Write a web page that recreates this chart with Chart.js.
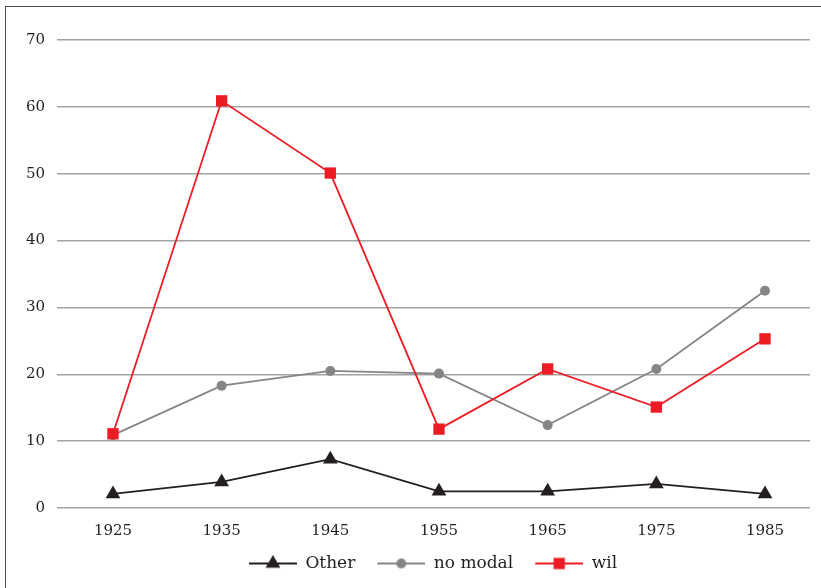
<!DOCTYPE html>
<html>
<head>
<meta charset="utf-8">
<script src="https://cdn.jsdelivr.net/npm/chart.js"></script>
<style>
  body { margin: 0; background: #fff; overflow: hidden; }
  #frame { position: absolute; left: 5px; top: 6px; width: 830px; height: 600px; border-left: 1.5px solid #4d4d4d; border-top: 1.5px solid #4d4d4d; }
  #chart { position: absolute; left: 0; top: 0; }
</style>
</head>
<body>
<div id="frame"></div>
<canvas id="chart" width="821" height="588"></canvas>
<script>
const years = [1925, 1935, 1945, 1955, 1965, 1975, 1985];
const otherValues = [2.1, 3.9, 7.3, 2.5, 2.5, 3.6, 2.1];
const noModalValues = [10.9, 18.3, 20.5, 20.1, 12.4, 20.8, 32.5];
const wilValues = [11.1, 60.9, 50.1, 11.8, 20.8, 15.1, 25.3];
const yTicks = [0, 10, 20, 30, 40, 50, 60, 70];

const textColor = "#231f20";
const serif = "'DejaVu Serif', serif";

function toPoints(vals) {
  return vals.map((v, i) => ({ x: years[i], y: v }));
}

// line+marker swatch for the legend (10px blank on the left to widen the gaps)
function swatch(color, style, r) {
  const c = document.createElement("canvas");
  c.width = 58;
  c.height = 18;
  const g = c.getContext("2d");
  const cx = 34, cy = 9;
  g.strokeStyle = color;
  g.lineWidth = 2;
  g.beginPath();
  g.moveTo(10, cy);
  g.lineTo(58, cy);
  g.stroke();
  g.fillStyle = color;
  g.beginPath();
  if (style === "triangle") {
    g.moveTo(cx, cy - r);
    g.lineTo(cx + r * 0.866, cy + r * 0.5);
    g.lineTo(cx - r * 0.866, cy + r * 0.5);
    g.closePath();
  } else if (style === "rect") {
    const s = r * Math.SQRT1_2;
    g.rect(cx - s, cy - s, 2 * s, 2 * s);
  } else {
    g.arc(cx, cy, r, 0, Math.PI * 2);
  }
  g.fill();
  return c;
}

const series = [
  { label: "Other", data: otherValues, color: "#231f20", style: "triangle", r: 8.5, order: 2 },
  { label: "no modal", data: noModalValues, color: "#858585", style: "circle", r: 5, order: 1 },
  { label: "wil", data: wilValues, color: "#ed1c24", style: "rect", r: 8, order: 0 }
];

// nudge the legend to the right, as in the original
const legendShift = {
  id: "legendShift",
  afterLayout(chart) {
    chart.legend.left += 23;
    chart.legend.right += 23;
  }
};

const ctx = document.getElementById("chart").getContext("2d");
const chart = new Chart(ctx, {
  type: "line",
  data: {
    datasets: series.map(s => ({
      label: s.label,
      data: toPoints(s.data),
      borderColor: s.color,
      backgroundColor: s.color,
      borderWidth: 1.8,
      pointStyle: s.style,
      pointRadius: s.r,
      pointHoverRadius: s.r,
      pointBorderWidth: 0,
      tension: 0,
      order: s.order
    }))
  },
  plugins: [legendShift],
  options: {
    responsive: false,
    animation: false,
    layout: { padding: { left: 0, right: 11, top: 40, bottom: 6 } },
    scales: {
      x: {
        type: "linear",
        min: 1919.85,
        max: 1989.14,
        afterBuildTicks: axis => { axis.ticks = years.map(v => ({ value: v })); },
        afterFit: scale => { scale.height = 35; },
        grid: { display: false },
        border: { display: false },
        ticks: {
          padding: 6,
          color: textColor,
          font: { family: serif, size: 15 },
          callback: v => String(v),
          maxRotation: 0,
          autoSkip: false
        }
      },
      y: {
        min: 0,
        max: 70,
        afterBuildTicks: axis => { axis.ticks = yTicks.map(v => ({ value: v })); },
        afterFit: scale => { scale.width = 57; },
        grid: { color: "#a3a3a3", lineWidth: 1.5, drawTicks: false },
        border: { display: false },
        ticks: {
          padding: 12,
          color: textColor,
          font: { family: serif, size: 15 }
        }
      }
    },
    plugins: {
      tooltip: { enabled: false },
      legend: {
        position: "bottom",
        labels: {
          usePointStyle: true,
          pointStyleWidth: 58,
          padding: 12,
          color: textColor,
          font: { family: serif, size: 17 },
          generateLabels: chart => series.map((s, i) => ({
            text: s.label,
            datasetIndex: i,
            pointStyle: swatch(s.color, s.style, s.r),
            fillStyle: s.color,
            strokeStyle: s.color,
            lineWidth: 0,
            fontColor: textColor,
            hidden: false
          }))
        }
      }
    }
  }
});
</script>
</body>
</html>
